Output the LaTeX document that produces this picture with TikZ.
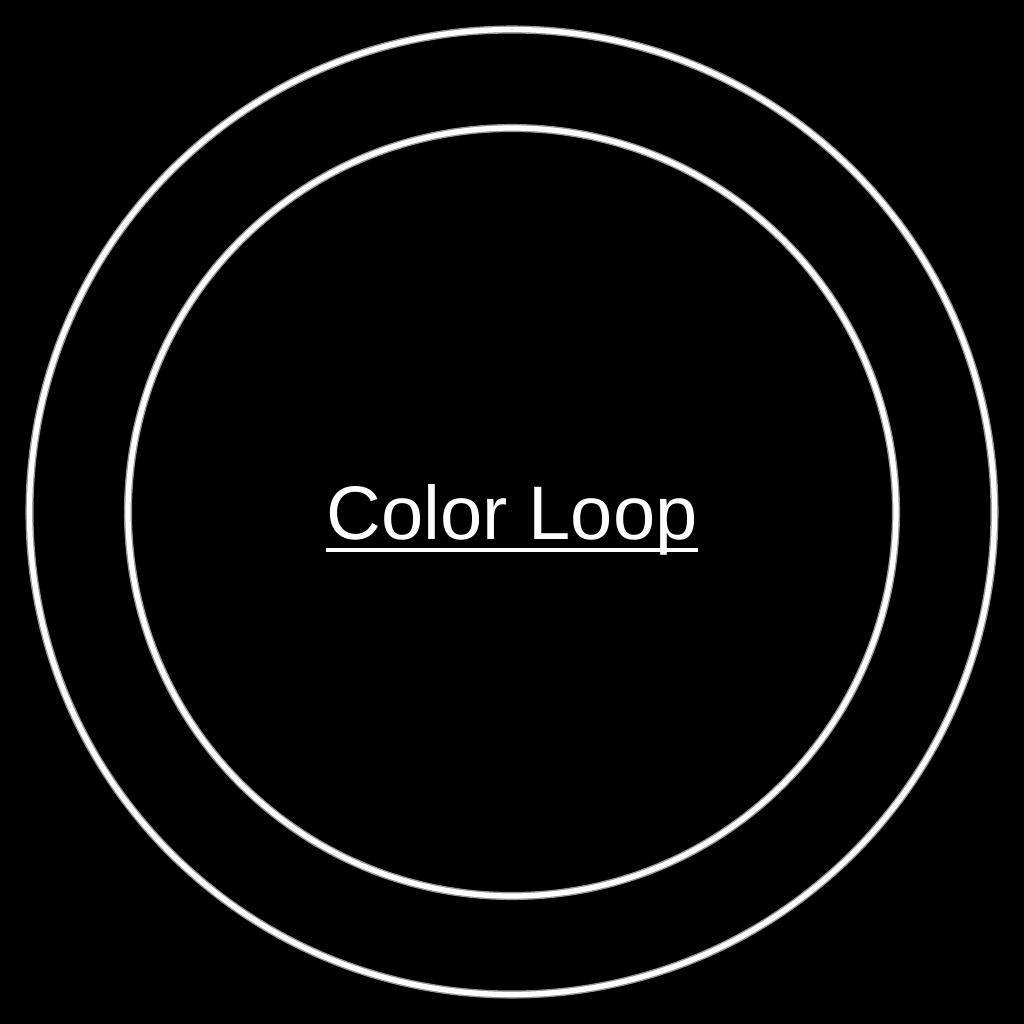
\documentclass[tikz,border=0pt]{standalone}
\usepackage{fontspec}
\setmainfont{Liberation Sans}
\usepackage{xcolor}
\usepackage{tikz}
\usetikzlibrary{positioning, calc}
\definecolor{mybg}{RGB}{0,0,0}
\definecolor{myring}{RGB}{255,255,255}
\definecolor{myhalo}{RGB}{150,150,150}
\tikzset{
  ring/.style={draw=myring, line width=1.5pt,
    preaction={draw=myhalo, line width=2.3pt}},
  title/.style={text=myring, inner sep=0pt, anchor=base,
    font=\fontsize{21.6}{26}\selectfont},
  underline/.style={draw=myring, line width=1.05pt}
}
\begin{document}
\begin{tikzpicture}
  % Background
  \fill[mybg] (-5.12,-5.12) rectangle (5.12,5.12);
  \useasboundingbox (-5.12,-5.12) rectangle (5.12,5.12);

  % Rings
  \draw[ring] (0,0) circle (4.825);
  \draw[ring] (0,0) circle (3.84);

  % Title
  \node[title] (loop) at (0,-0.27) {Color Loop};
  \draw[underline] ([yshift=-0.11cm]loop.base west) -- ([yshift=-0.11cm]loop.base east);
\end{tikzpicture}
\end{document}
